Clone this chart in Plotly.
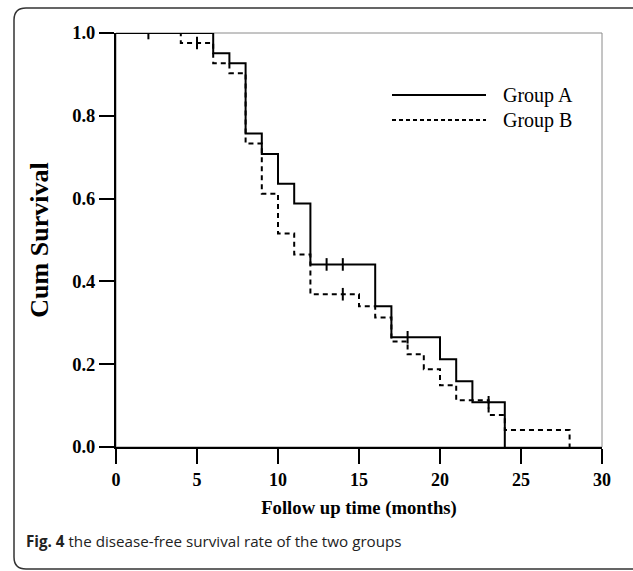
import plotly.graph_objects as go

# ---- data ----
time_a = [0, 6, 7, 8, 9, 10, 11, 12, 16, 17, 20, 21, 22, 24]
surv_a = [1.0, 0.951, 0.927, 0.757, 0.708, 0.636, 0.588, 0.441, 0.340, 0.265, 0.212, 0.159, 0.108, 0.0]
cens_a_t = [2, 13, 14, 18, 23]
cens_a_s = [1.0, 0.441, 0.441, 0.265, 0.108]

time_b = [0, 4, 6, 7, 8, 9, 10, 11, 12, 15, 16, 17, 18, 19, 20, 21, 23, 24, 28]
surv_b = [1.0, 0.976, 0.927, 0.903, 0.733, 0.612, 0.516, 0.465, 0.369, 0.340, 0.313, 0.255, 0.224, 0.188, 0.149, 0.113, 0.077, 0.041, 0.0]
cens_b_t = [5, 14]
cens_b_s = [0.976, 0.369]

x_ticks = [0, 5, 10, 15, 20, 25, 30]
y_ticks = [0.0, 0.2, 0.4, 0.6, 0.8, 1.0]
y_tick_labels = ["0.0", "0.2", "0.4", "0.6", "0.8", "1.0"]
series_names = ["Group A", "Group B"]

# ---- layout geometry (pixels) ----
W, H = 633, 571
L, R, T, B = 116, 31, 33, 124
PW, PH = W - L - R, H - T - B

def px(xp):
    return (xp - L) / PW

def py(yp):
    return (H - B - yp) / PH

serif = "Liberation Serif"

fig = go.Figure()
fig.add_trace(go.Scatter(x=time_a, y=surv_a, mode="lines", line=dict(shape="hv", color="black", width=2),
                         name=series_names[0], showlegend=False))
fig.add_trace(go.Scatter(x=time_b, y=surv_b, mode="lines", line=dict(shape="hv", color="black", width=2, dash="5px,4px"),
                         name=series_names[1], showlegend=False))
fig.add_trace(go.Scatter(x=cens_a_t, y=cens_a_s, mode="markers", showlegend=False,
                         marker=dict(symbol="line-ns-open", size=9, color="black", line=dict(color="black", width=2))))
fig.add_trace(go.Scatter(x=cens_b_t, y=cens_b_s, mode="markers", showlegend=False,
                         marker=dict(symbol="line-ns-open", size=9, color="black", line=dict(color="black", width=2))))

shapes = []
# thin gray frame (top/right)
shapes.append(dict(type="rect", xref="x domain", yref="y domain", x0=0, x1=1, y0=0, y1=1,
                   line=dict(color="#8a8a8a", width=1), layer="below"))
# outer rounded caption box
x0, x1, y0, y1, r = 14, 640, 8, 569, 12
path = (f"M {px(x0+r)},{py(y0)} L {px(x1)},{py(y0)} "
        f"M {px(x0+r)},{py(y0)} Q {px(x0)},{py(y0)} {px(x0)},{py(y0+r)} "
        f"L {px(x0)},{py(y1-r)} Q {px(x0)},{py(y1)} {px(x0+r)},{py(y1)} L {px(x1)},{py(y1)}")
shapes.append(dict(type="path", xref="paper", yref="paper", path=path, line=dict(color="#333333", width=1.5)))
# legend samples
shapes.append(dict(type="line", xref="paper", yref="paper", x0=px(392), x1=px(486), y0=py(95), y1=py(95),
                   line=dict(color="black", width=2)))
shapes.append(dict(type="line", xref="paper", yref="paper", x0=px(392), x1=px(486), y0=py(120), y1=py(120),
                   line=dict(color="black", width=2, dash="4px,3px")))

annotations = [
    dict(text=series_names[0], xref="paper", yref="paper", x=px(501), y=py(95), xanchor="left", yanchor="middle",
         showarrow=False, font=dict(family=serif, size=20, color="black")),
    dict(text=series_names[1], xref="paper", yref="paper", x=px(501), y=py(120), xanchor="left", yanchor="middle",
         showarrow=False, font=dict(family=serif, size=20, color="black")),
    dict(text="<b>Fig. 4</b> the disease-free survival rate of the two groups", xref="paper", yref="paper",
         x=px(24), y=py(541), xanchor="left", yanchor="middle", showarrow=False,
         font=dict(family="Open Sans", size=15.2, color="#222222")),
]

fig.update_layout(
    width=W, height=H, margin=dict(l=L, r=R, t=T, b=B, autoexpand=False),
    paper_bgcolor="white", plot_bgcolor="white",
    shapes=shapes, annotations=annotations, showlegend=False,
    xaxis=dict(range=[0, 30], tickvals=x_ticks, ticktext=[f"<b>{t}</b>" for t in x_ticks],
               ticks="outside", ticklen=15, tickwidth=2, tickcolor="black",
               showline=True, linecolor="black", linewidth=2, showgrid=False, zeroline=False,
               tickfont=dict(family=serif, size=18, color="black"),
               title=dict(text="<b>Follow up time (months)</b>", font=dict(family=serif, size=18.7, color="black"), standoff=12)),
    yaxis=dict(range=[0, 1], tickvals=y_ticks, ticktext=[f"<b>{t}</b>" for t in y_tick_labels], ticks="outside",
               ticklen=15, tickwidth=2, tickcolor="black",
               showline=True, linecolor="black", linewidth=2, showgrid=False, zeroline=False,
               tickfont=dict(family=serif, size=18.5, color="black"),
               title=dict(text="<b>Cum Survival</b>", font=dict(family=serif, size=26, color="black"), standoff=16)),
)

fig.write_html("out.html", config={"displayModeBar": False},
               post_script="document.body.style.margin='0';")
